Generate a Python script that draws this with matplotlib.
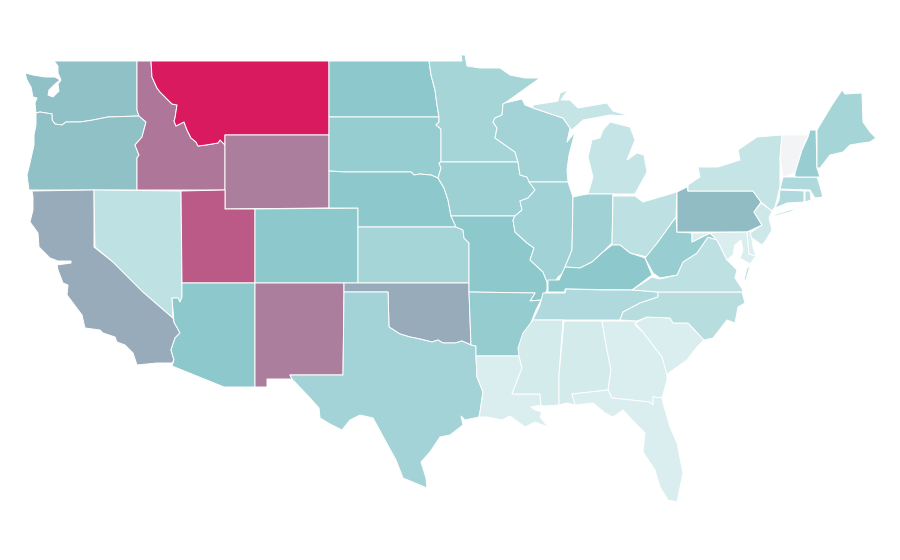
import matplotlib

matplotlib.use("Agg")

import matplotlib.pyplot as plt
from matplotlib.collections import PolyCollection
from matplotlib.colors import LinearSegmentedColormap, Normalize

# state values, 0-100
STATE_VALUES = {
    "WA": 33, "OR": 33, "CA": 42, "NV": 14.6, "ID": 63, "MT": 100, "WY": 60, "UT": 74.5,
    "AZ": 30, "CO": 30, "NM": 60, "ND": 30, "SD": 27, "NE": 30, "KS": 22, "OK": 42,
    "TX": 23, "MN": 22, "IA": 25, "MO": 30, "AR": 27.5, "LA": 6, "WI": 23, "IL": 23.5,
    "MI": 12.5, "MI_UP": 12.5, "IN": 24, "OH": 15, "KY": 30, "TN": 19.5, "MS": 8, "AL": 8,
    "GA": 6, "FL": 6, "SC": 6, "NC": 17, "VA": 15, "VA_SHORE": 15, "WV": 26.5, "PA": 35, "MD": 6,
    "DE": 5.5, "NJ": 10, "NY": 12.5, "LI": 12.5, "CT": 19.5, "RI": 17, "MA": 19.5, "VT": 0,
    "NH": 26.5, "ME": 22,
}

# outlines, in image pixels
OUTLINES = {
    "WA": [(54, 61), (137, 61), (137, 110), (139, 116), (108, 117), (93, 120), (80, 122), (66, 122), (62, 125),
           (55, 124), (52, 120), (52, 114), (40, 112), (36, 113), (35, 103), (37, 98), (33, 97), (31, 87), (27, 80),
           (25, 73), (33, 75), (45, 77), (55, 77), (60, 80), (54, 85), (49, 90), (48, 95), (53, 97), (59, 91),
           (58, 84), (61, 80), (58, 73), (58, 66)],
    "OR": [(36, 113), (40, 112), (52, 114), (52, 120), (55, 124), (62, 125), (66, 122), (80, 122), (93, 120),
           (108, 117), (139, 116), (146, 122), (142, 137), (135, 145), (139, 155), (137, 158), (137, 190), (29, 190),
           (27, 175), (30, 163), (34, 145), (34, 135), (36, 125)],
    "CA": [(32, 191), (94, 190), (94, 247), (113, 262), (143, 292), (173, 318), (174, 322), (180, 333), (175, 338),
           (171, 350), (174, 360), (172, 363), (157, 363), (137, 365), (133, 353), (125, 345), (117, 342), (115, 337),
           (103, 333), (100, 330), (85, 328), (82, 315), (67, 295), (68, 285), (63, 283), (58, 270), (57, 265),
           (71, 263), (71, 261), (58, 261), (50, 258), (39, 247), (38, 233), (30, 222), (33, 210), (33, 197)],
    "NV": [(94, 190), (181, 191), (182, 297), (180, 302), (178, 298), (172, 298), (173, 318), (143, 292), (113, 262),
           (95, 247)],
    "ID": [(137, 61), (151, 61), (152, 77), (157, 88), (160, 92), (168, 100), (172, 104), (177, 105), (175, 118),
           (174, 121), (176, 126), (184, 122), (187, 130), (191, 138), (196, 142), (198, 146), (206, 145), (218, 143),
           (220, 140), (225, 145), (225, 190), (137, 190), (137, 158), (139, 155), (135, 145), (142, 137), (146, 122),
           (139, 116), (137, 110)],
    "MT": [(151, 61), (329, 61), (329, 135), (225, 135), (225, 145), (220, 140), (218, 143), (206, 145), (198, 146),
           (196, 142), (191, 138), (187, 130), (184, 122), (176, 126), (174, 121), (175, 118), (177, 105), (172, 104),
           (168, 100), (160, 92), (157, 88), (152, 77)],
    "WY": [(225, 135), (329, 135), (329, 208), (225, 209)],
    "UT": [(181, 191), (225, 190), (225, 209), (255, 209), (255, 283), (182, 283)],
    "AZ": [(182, 283), (255, 283), (255, 387), (224, 387), (172, 366), (174, 360), (171, 350), (175, 338), (180, 333),
           (174, 322), (172, 298), (178, 298), (180, 302), (182, 297)],
    "CO": [(255, 209), (358, 208), (358, 283), (255, 283)],
    "NM": [(255, 283), (344, 283), (344, 292), (343, 375), (290, 375), (292, 379), (267, 379), (267, 387), (255, 387)],
    "ND": [(329, 61), (429, 61), (431, 75), (435, 90), (437, 105), (439, 117), (329, 117)],
    "SD": [(329, 117), (439, 117), (439, 122), (436, 125), (441, 129), (441, 162), (439, 163), (441, 168), (438, 178),
           (431, 175), (420, 174), (414, 175), (411, 172), (345, 172), (329, 171)],
    "NE": [(329, 171), (345, 172), (411, 172), (414, 175), (420, 174), (431, 175), (438, 178), (444, 188), (448, 200),
           (451, 216), (456, 227), (358, 227), (358, 208), (329, 208)],
    "KS": [(358, 227), (456, 227), (463, 230), (464, 238), (469, 243), (469, 283), (358, 283)],
    "OK": [(344, 283), (469, 283), (469, 292), (471, 345), (462, 341), (455, 343), (443, 343), (438, 340), (432, 342),
           (420, 339), (410, 337), (400, 334), (389, 327), (388, 292), (344, 292)],
    "TX": [(344, 292), (388, 292), (389, 327), (400, 334), (410, 337), (420, 339), (432, 342), (438, 340), (443, 343),
           (455, 343), (462, 341), (471, 345), (476, 346), (476, 356), (477, 377), (483, 392), (480, 412), (479, 417),
           (465, 420), (461, 416), (463, 425), (450, 435), (440, 437), (430, 452), (421, 462), (426, 478), (427, 488),
           (415, 483), (403, 478), (396, 460), (385, 440), (373, 418), (360, 415), (350, 420), (342, 430), (330, 424),
           (320, 418), (319, 408), (310, 398), (292, 379), (290, 375), (343, 375)],
    "MN": [(429, 61), (462, 61), (461, 55), (465, 55), (467, 66), (480, 68), (500, 68), (510, 75), (525, 78), (540, 78),
           (526, 88), (505, 103), (503, 104), (502, 115), (495, 118), (493, 122), (497, 128), (495, 138), (505, 145),
           (515, 152), (518, 162), (441, 162), (441, 129), (436, 125), (439, 122), (439, 117), (437, 105), (435, 90),
           (431, 75)],
    "IA": [(439, 163), (441, 162), (518, 162), (520, 175), (527, 177), (535, 190), (528, 198), (520, 201), (522, 210),
           (515, 216), (451, 216), (448, 200), (444, 188), (438, 178), (441, 168)],
    "MO": [(451, 216), (515, 216), (513, 220), (515, 232), (527, 243), (534, 248), (530, 260), (543, 272), (547, 282),
           (547, 290), (541, 300), (530, 301), (535, 293), (469, 292), (469, 243), (464, 238), (463, 230), (456, 227)],
    "AR": [(469, 292), (535, 293), (530, 301), (541, 300), (536, 310), (530, 325), (522, 340), (519, 356), (476, 356),
           (476, 346), (471, 345)],
    "LA": [(476, 356), (519, 356), (522, 368), (512, 394), (540, 394), (541, 405), (531, 407), (535, 410), (542, 412),
           (540, 417), (548, 427), (535, 422), (525, 427), (510, 416), (502, 420), (487, 417), (479, 417), (480, 412),
           (483, 392), (477, 377)],
    "WI": [(503, 104), (505, 103), (522, 99), (525, 105), (533, 108), (563, 118), (570, 128), (567, 142), (575, 132),
           (569, 155), (567, 170), (568, 182), (529, 182), (527, 177), (520, 175), (518, 162), (515, 152), (505, 145),
           (495, 138), (497, 128), (493, 122), (495, 118), (502, 115)],
    "IL": [(529, 182), (568, 182), (573, 197), (572, 250), (565, 267), (563, 273), (558, 277), (555, 282), (547, 282),
           (543, 272), (530, 260), (534, 248), (527, 243), (515, 232), (513, 220), (515, 216), (522, 210), (520, 201),
           (528, 198), (535, 190)],
    "MI_UP": [(533, 108), (533, 105), (553, 102), (558, 101), (560, 93), (568, 90), (561, 100), (570, 100), (578, 108),
              (607, 103), (613, 111), (630, 116), (610, 115), (583, 120), (572, 130), (570, 128), (563, 118)],
    "MI": [(610, 122), (630, 127), (635, 140), (627, 160), (637, 153), (644, 155), (647, 172), (635, 194), (613, 194),
           (588, 194), (593, 177), (588, 157), (592, 140), (600, 138), (603, 130)],
    "IN": [(573, 197), (582, 195), (588, 194), (613, 194), (612, 243), (603, 252), (592, 262), (580, 268), (565, 267),
           (572, 250)],
    "OH": [(613, 196), (635, 196), (643, 202), (677, 192), (676, 217), (658, 242), (647, 257), (630, 253), (620, 245),
           (612, 245)],
    "KY": [(548, 292), (565, 292), (565, 289), (632, 290), (652, 275), (645, 258), (630, 253), (620, 245), (612, 245),
           (603, 252), (592, 262), (580, 268), (565, 267), (559, 280), (548, 280)],
    "TN": [(566, 289), (603, 290), (633, 290), (658, 292), (658, 297), (640, 303), (623, 312), (620, 320), (563, 320),
           (533, 320), (540, 305), (543, 293), (565, 293)],
    "MS": [(533, 320), (563, 320), (559, 375), (559, 405), (543, 406), (541, 405), (540, 394), (512, 394), (522, 368),
           (519, 356), (518, 348), (523, 333)],
    "AL": [(564, 321), (602, 321), (606, 345), (611, 370), (608, 390), (572, 394), (575, 405), (567, 403), (559, 405),
           (559, 375)],
    "GA": [(602, 321), (637, 321), (635, 325), (643, 332), (662, 357), (667, 370), (667, 380), (662, 398), (653, 397),
           (653, 405), (650, 402), (612, 398), (608, 390), (611, 370), (606, 345)],
    "FL": [(572, 394), (608, 390), (612, 398), (650, 402), (653, 405), (653, 397), (662, 398), (663, 403), (670, 427),
           (677, 443), (683, 473), (677, 502), (668, 500), (660, 487), (655, 470), (643, 452), (645, 433), (635, 423),
           (623, 410), (613, 417), (605, 413), (593, 403), (575, 405)],
    "SC": [(635, 323), (647, 317), (670, 318), (673, 323), (688, 323), (704, 340), (697, 347), (687, 360), (670, 372),
           (667, 375), (662, 357), (643, 332)],
    "NC": [(658, 292), (742, 292), (745, 303), (738, 307), (735, 323), (727, 320), (713, 338), (704, 340), (688, 323),
           (673, 323), (670, 318), (647, 317), (637, 321), (620, 320), (623, 312), (640, 303), (658, 297)],
    "VA": [(632, 290), (652, 277), (660, 279), (677, 275), (683, 262), (697, 253), (708, 237), (717, 240), (722, 250),
           (727, 260), (737, 270), (735, 278), (743, 290), (742, 292), (658, 292), (633, 290)],
    "VA_SHORE": [(750, 266), (746, 280), (744, 280), (747, 268)],
    "WV": [(676, 217), (677, 232), (692, 233), (692, 242), (710, 233), (717, 240), (708, 237), (697, 253), (683, 262),
           (677, 275), (660, 278), (653, 273), (645, 258), (658, 242)],
    "PA": [(677, 192), (687, 187), (688, 191), (753, 191), (761, 202), (754, 212), (762, 225), (747, 232), (677, 232)],
    "MD": [(692, 233), (747, 232), (749, 254), (756, 256), (750, 264), (740, 258), (743, 250), (741, 240), (735, 245),
           (733, 255), (727, 260), (722, 250), (717, 240), (710, 233), (692, 242)],
    "DE": [(747, 232), (751, 231), (753, 247), (756, 256), (749, 254)],
    "NJ": [(761, 203), (772, 211), (769, 218), (772, 230), (766, 240), (762, 245), (752, 238), (750, 233), (762, 225),
           (754, 212)],
    "NY": [(688, 191), (688, 185), (700, 177), (698, 167), (718, 167), (740, 160), (738, 150), (757, 137), (782, 135),
           (780, 158), (780, 187), (775, 207), (772, 211), (761, 202), (753, 191)],
    "LI": [(773, 215), (800, 207), (790, 212), (775, 216)],
    "CT": [(780, 190), (804, 191), (804, 202), (787, 203), (775, 208), (779, 200)],
    "RI": [(805, 191), (810, 191), (811, 200), (805, 202)],
    "MA": [(783, 177), (817, 177), (819, 183), (823, 197), (830, 196), (815, 198), (810, 190), (780, 189)],
    "VT": [(782, 135), (808, 135), (802, 150), (795, 173), (783, 177), (780, 158)],
    "NH": [(810, 130), (816, 130), (817, 168), (820, 177), (795, 177), (795, 173), (802, 150), (808, 137)],
    "ME": [(817, 130), (832, 105), (842, 90), (845, 94), (862, 93), (863, 122), (870, 132), (876, 138), (870, 142),
           (862, 143), (850, 145), (843, 152), (830, 155), (820, 168), (817, 168)],
}


def main() -> None:
    fig, ax = plt.subplots(figsize=(9, 5.6), dpi=100)
    fig.subplots_adjust(left=0, right=1, top=1, bottom=0)

    cmap = LinearSegmentedColormap.from_list(
        "teal_crimson",
        [(0.0, "#f3f4f6"), (0.06, "#daeeef"), (0.3, "#8cc8cc"), (0.65, "#b07296"), (1.0, "#d91a5e")],
    )
    names = list(OUTLINES)
    states = PolyCollection(
        [OUTLINES[name] for name in names],
        array=[STATE_VALUES[name] for name in names],
        cmap=cmap,
        norm=Normalize(0, 100),
        edgecolors="white",
        linewidths=0.7,
    )
    ax.add_collection(states)
    ax.set_xlim(0, 900)
    ax.set_ylim(560, 0)
    ax.axis("off")

    fig.savefig("out.png", dpi=100)
    plt.close(fig)


if __name__ == "__main__":
    main()
